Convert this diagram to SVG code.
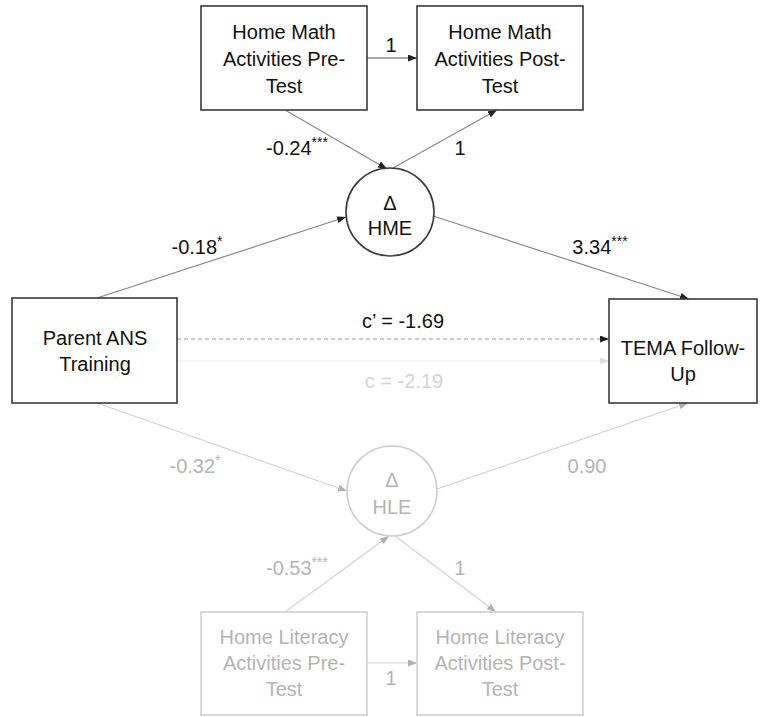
<svg xmlns="http://www.w3.org/2000/svg" width="763" height="717" viewBox="0 0 763 717">
<style>
text{font-family:"Liberation Sans",Arial,sans-serif;font-size:20px;text-anchor:middle}
.dark text,.dk{fill:#111}
.lt text,.lg{fill:#b4b4b4}
.box{fill:#fff;stroke:#3a3a3a;stroke-width:1.6}
.lbox{fill:#fff;stroke:#cfcfcf;stroke-width:1.6}
.circ{fill:#fff;stroke:#3a3a3a;stroke-width:1.6}
.lcirc{fill:#fff;stroke:#cfcfcf;stroke-width:1.6}
.e-dark{stroke:#555;stroke-width:1.1;fill:none;marker-end:url(#ad)}
.e-mid{stroke:#888;stroke-width:1.2;fill:none;marker-end:url(#ad)}
.e-dash{stroke:#999;stroke-width:1.2;fill:none;stroke-dasharray:4 3;marker-end:url(#ad)}
.e-faint{stroke:#ececec;stroke-width:1.2;fill:none;marker-end:url(#af)}
.e-light{stroke:#d2d2d2;stroke-width:1.2;fill:none;marker-end:url(#al)}
.sup{font-size:14px}
</style>
<defs>
<marker id="ad" markerUnits="userSpaceOnUse" markerWidth="9" markerHeight="7" refX="9" refY="3.5" orient="auto"><path d="M0,0 L9,3.5 L0,7 z" fill="#222"/></marker>
<marker id="al" markerUnits="userSpaceOnUse" markerWidth="9" markerHeight="7" refX="9" refY="3.5" orient="auto"><path d="M0,0 L9,3.5 L0,7 z" fill="#b0b0b0"/></marker>
<marker id="af" markerUnits="userSpaceOnUse" markerWidth="9" markerHeight="7" refX="9" refY="3.5" orient="auto"><path d="M0,0 L9,3.5 L0,7 z" fill="#dedede"/></marker>
</defs>

<g id="connectors">
<line class="e-dark" x1="367" y1="58" x2="417" y2="58"/>
<line class="e-mid" x1="285" y1="110" x2="387" y2="169"/>
<line class="e-mid" x1="393" y1="168" x2="497" y2="110"/>
<line class="e-mid" x1="97" y1="298" x2="346" y2="217"/>
<line class="e-mid" x1="433" y1="216" x2="689" y2="299"/>
<line class="e-dash" x1="177" y1="339" x2="609" y2="339"/>
<line class="e-faint" x1="177" y1="361" x2="609" y2="361"/>
<line class="e-light" x1="97" y1="403" x2="347" y2="491"/>
<line class="e-light" x1="437" y1="489" x2="688" y2="403"/>
<line class="e-light" x1="285" y1="612" x2="389" y2="536"/>
<line class="e-light" x1="395" y1="536" x2="496" y2="612"/>
<line class="e-light" x1="367" y1="663" x2="417" y2="663"/>
<text class="dk" x="391" y="52">1</text>
<text class="dk" x="297" y="155">-0.24<tspan class="sup" dy="-8">***</tspan></text>
<text class="dk" x="460" y="155">1</text>
<text class="dk" x="197" y="254">-0.18<tspan class="sup" dy="-8">*</tspan></text>
<text class="dk" x="600" y="254">3.34<tspan class="sup" dy="-8">***</tspan></text>
<text class="dk" x="403" y="328">c’ = -1.69</text>
<text x="404" y="388" fill="#d4d4d4">c = -2.19</text>
<text class="lg" x="195" y="473">-0.32<tspan class="sup" dy="-8">*</tspan></text>
<text class="lg" x="587" y="473">0.90</text>
<text class="lg" x="297" y="575">-0.53<tspan class="sup" dy="-8">***</tspan></text>
<text class="lg" x="460" y="575">1</text>
<text class="lg" x="391" y="685">1</text>
</g>

<g id="hm-pre" class="dark">
<rect class="box" x="201" y="6" width="166" height="104"/>
<text x="284" y="39">Home Math</text>
<text x="284" y="66">Activities Pre-</text>
<text x="284" y="93">Test</text>
</g>
<g id="hm-post" class="dark">
<rect class="box" x="417" y="6" width="166" height="104"/>
<text x="500" y="39">Home Math</text>
<text x="500" y="66">Activities Post-</text>
<text x="500" y="93">Test</text>
</g>
<g id="hme" class="dark">
<circle class="circ" cx="390" cy="212" r="44"/>
<text x="390" y="210">Δ</text>
<text x="390" y="235">HME</text>
</g>
<g id="parent" class="dark">
<rect class="box" x="12" y="298" width="165" height="105"/>
<text x="95" y="345">Parent ANS</text>
<text x="95" y="371">Training</text>
</g>
<g id="tema" class="dark">
<rect class="box" x="609" y="299" width="148" height="104"/>
<text x="683" y="355">TEMA Follow-</text>
<text x="683" y="381">Up</text>
</g>
<g id="hle" class="lt">
<circle class="lcirc" cx="392" cy="491" r="45"/>
<text x="392" y="487">Δ</text>
<text x="392" y="514">HLE</text>
</g>
<g id="hl-pre" class="lt">
<rect class="lbox" x="201" y="612" width="166" height="103"/>
<text x="284" y="644">Home Literacy</text>
<text x="284" y="670">Activities Pre-</text>
<text x="284" y="696">Test</text>
</g>
<g id="hl-post" class="lt">
<rect class="lbox" x="417" y="612" width="166" height="103"/>
<text x="500" y="644">Home Literacy</text>
<text x="500" y="670">Activities Post-</text>
<text x="500" y="696">Test</text>
</g>
</svg>
